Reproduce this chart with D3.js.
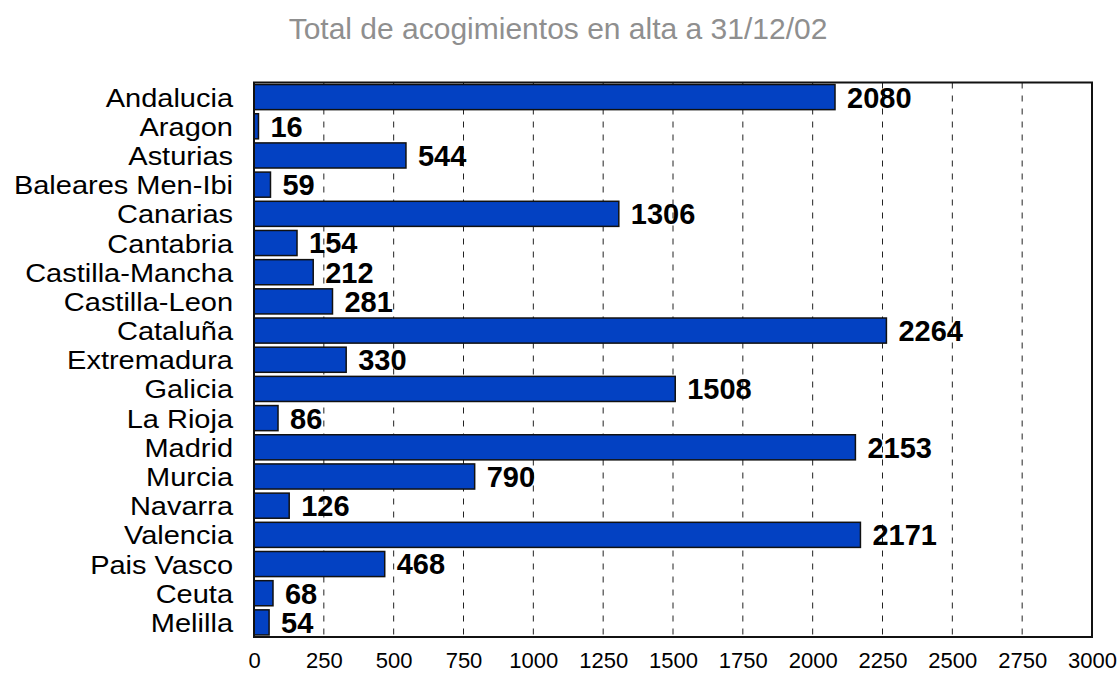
<!DOCTYPE html>
<html>
<head>
<meta charset="utf-8">
<script src="https://cdn.jsdelivr.net/npm/d3@7"></script>
<style>
  body { margin: 0; background: #fff; }
  text { font-family: "Liberation Sans", Arial, sans-serif; }
</style>
</head>
<body>
<div id="chart-area"></div>
<script>
const regions = ["Andalucia", "Aragon", "Asturias", "Baleares Men-Ibi", "Canarias", "Cantabria",
  "Castilla-Mancha", "Castilla-Leon", "Cataluña", "Extremadura", "Galicia", "La Rioja",
  "Madrid", "Murcia", "Navarra", "Valencia", "Pais Vasco", "Ceuta", "Melilla"]
const totals = [2080, 16, 544, 59, 1306, 154, 212, 281, 2264, 330, 1508, 86, 2153, 790, 126, 2171, 468, 68, 54]
const xTicks = [0, 250, 500, 750, 1000, 1250, 1500, 1750, 2000, 2250, 2500, 2750, 3000]
const title = "Total de acogimientos en alta a 31/12/02"

const W = 1119, H = 673
const PLOT = { LEFT: 254, RIGHT: 1092, TOP: 82.5, BOTTOM: 637 }
const LABEL_STRETCH = 1.16

const svg = d3.select("#chart-area").append("svg")
  .attr("width", W)
  .attr("height", H)

const data = regions.map((r, i) => ({ region: r, value: totals[i] }))

const x = d3.scaleLinear()
  .domain([0, 3000])
  .range([PLOT.LEFT, PLOT.RIGHT])

const y = d3.scaleBand()
  .domain(regions)
  .range([PLOT.TOP, PLOT.BOTTOM])
  .paddingInner(0.14)
  .paddingOuter(0.07)

// title
svg.append("text")
  .attr("x", 558)
  .attr("y", 39)
  .attr("text-anchor", "middle")
  .attr("font-size", "30px")
  .attr("fill", "#8f8f8f")
  .text(title)

// dashed grid
svg.append("g")
  .selectAll("line")
  .data(xTicks.slice(1, -1))
  .enter().append("line")
    .attr("x1", d => x(d))
    .attr("x2", d => x(d))
    .attr("y1", PLOT.TOP)
    .attr("y2", PLOT.BOTTOM)
    .attr("stroke", "#222")
    .attr("stroke-width", 1)
    .attr("stroke-dasharray", "6,7")

// bars
svg.append("g")
  .selectAll("rect")
  .data(data)
  .enter().append("rect")
    .attr("x", x(0))
    .attr("y", d => y(d.region))
    .attr("width", d => x(d.value) - x(0))
    .attr("height", y.bandwidth())
    .attr("fill", "#0341c2")
    .attr("stroke", "#111")
    .attr("stroke-width", 1.5)

// value labels
svg.append("g")
  .selectAll("text")
  .data(data)
  .enter().append("text")
    .attr("x", d => x(d.value) + 12)
    .attr("y", d => y(d.region) + y.bandwidth() / 2)
    .attr("dy", "0.36em")
    .attr("font-size", "29px")
    .attr("font-weight", "bold")
    .attr("fill", "#000")
    .text(d => d.value)

// frame
svg.append("rect")
  .attr("x", PLOT.LEFT)
  .attr("y", PLOT.TOP)
  .attr("width", PLOT.RIGHT - PLOT.LEFT)
  .attr("height", PLOT.BOTTOM - PLOT.TOP)
  .attr("fill", "none")
  .attr("stroke", "#111")
  .attr("stroke-width", 2)

// y axis labels (slightly wide lettering like the original)
const yAxis = d3.axisLeft(y).tickSize(0).tickPadding(21)
svg.append("g")
  .attr("transform", `translate(${PLOT.LEFT}, 0)`)
  .call(yAxis)
  .call(g => g.select(".domain").remove())
  .selectAll("text")
    .attr("x", -21 / LABEL_STRETCH)
    .attr("dy", "0.38em")
    .attr("transform", `scale(${LABEL_STRETCH},1)`)
    .attr("font-size", "25px")
    .attr("font-family", "Liberation Sans, Arial, sans-serif")
    .attr("fill", "#000")

// x axis labels
const xAxis = d3.axisBottom(x).tickValues(xTicks).tickFormat(d3.format("d"))
  .tickSize(0).tickPadding(15)
svg.append("g")
  .attr("transform", `translate(0, ${PLOT.BOTTOM})`)
  .call(xAxis)
  .call(g => g.select(".domain").remove())
  .selectAll("text")
    .attr("font-size", "22px")
    .attr("font-family", "Liberation Sans, Arial, sans-serif")
    .attr("fill", "#000")
</script>
</body>
</html>
